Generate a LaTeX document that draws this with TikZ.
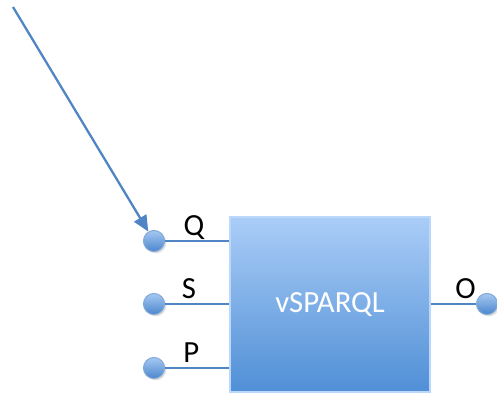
\documentclass[tikz,border=0pt]{standalone}
\usepackage{fontspec}
\setmainfont{Carlito}
\usepackage{tikz}
\usetikzlibrary{arrows.meta}
\usetikzlibrary{shadows}

\definecolor{wireblue}{RGB}{79,133,196}
\definecolor{boxtop}{RGB}{170,205,247}
\definecolor{boxbot}{RGB}{80,143,214}
\definecolor{pintop}{RGB}{165,200,242}
\definecolor{pinbot}{RGB}{76,134,205}

\tikzset{
	wire/.style={draw=wireblue,line width=1.3pt},
	pin/.style={circle,minimum size=12pt,inner sep=0pt,draw=wireblue!70,line width=0.6pt,
		top color=pintop,bottom color=pinbot,drop shadow={opacity=0.25,shadow xshift=1pt,shadow yshift=-1pt}},
	pinlabel/.style={font=\fontsize{17.5}{20}\selectfont,text=black,anchor=base,yshift=3pt},
}

\begin{document}
\begin{tikzpicture}[x=0.02cm,y=-0.02cm]
				\useasboundingbox (0,0) rectangle (497,396);
				% Define pin heights.
				\def\yq{241}      %Height of Q.
				\def\ys{304}      %Height of S.
				\def\yp{368}      %Height of P.
				\def\xin{154}     %Left end of inputs.
				
				% Box
				\node[draw=boxtop!80!white,line width=0.8pt,top color=boxtop,bottom color=boxbot,
					minimum width=200*0.02cm,minimum height=175*0.02cm,inner sep=0pt,
					font=\fontsize{17.5}{20}\selectfont,text=white] (box) at (330,304.5) {vSPARQL};
				
				% Input pins
				\node[pin] (pinQ) at (\xin,\yq) {};
				\node[pin] (pinS) at (\xin,\ys) {};
				\node[pin] (pinP) at (\xin,\yp) {};
				
				% Output pin
				\node[pin] (pinO) at (487,304) {};
				
				% Wires
				\draw[wire] (pinQ) -- (box.west |- pinQ) node[pinlabel,pos=0.45] {Q};
				\draw[wire] (pinS) -- (box.west |- pinS) node[pinlabel,pos=0.37] {S};
				\draw[wire] (pinP) -- (box.west |- pinP) node[pinlabel,pos=0.41] {P};
				\draw[wire] (box.east |- pinO) -- (pinO) node[pinlabel,pos=0.77] {O};
				
				% Incoming arrow
				\coordinate (qsrc) at (13,7);
				\draw[wire,-{Triangle[length=9pt,width=8pt]}] (qsrc) -- (pinQ);
				
\end{tikzpicture}
\end{document}
